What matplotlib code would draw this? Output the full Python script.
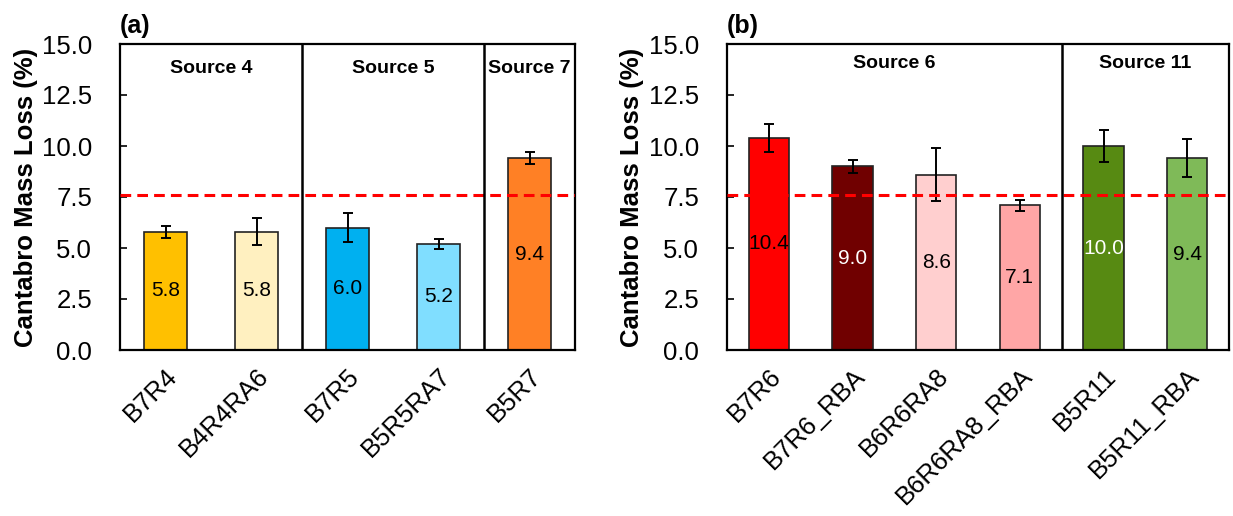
import matplotlib
matplotlib.use("Agg")
import matplotlib.pyplot as plt
import numpy as np

plt.rcParams['font.family'] = ['Liberation Sans', 'DejaVu Sans']

# Panel (a)
cats_a = ["B7R4", "B4R4RA6", "B7R5", "B5R5RA7", "B5R7"]
vals_a = [5.8, 5.8, 6.0, 5.2, 9.4]
errs_a = [0.3, 0.66, 0.72, 0.25, 0.3]
cols_a = ["#FFC000", "#FFF0C0", "#00B0F0", "#80DEFF", "#FF8025"]
lblc_a = ["black", "black", "black", "black", "black"]
groups_a = ["Source 4", "Source 5", "Source 7"]
group_centers_a = [0.5, 2.5, 4.0]
dividers_a = [1.5, 3.5]

# Panel (b)
cats_b = ["B7R6", "B7R6_RBA", "B6R6RA8", "B6R6RA8_RBA", "B5R11", "B5R11_RBA"]
vals_b = [10.4, 9.0, 8.6, 7.1, 10.0, 9.4]
errs_b = [0.7, 0.3, 1.3, 0.27, 0.8, 0.92]
cols_b = ["#FF0000", "#700000", "#FFCFCF", "#FFA6A6", "#578A12", "#7FBA58"]
lblc_b = ["black", "white", "black", "black", "white", "black"]
groups_b = ["Source 6", "Source 11"]
group_centers_b = [1.5, 4.5]
dividers_b = [3.5]

threshold = 7.6
yticks = [0.0, 2.5, 5.0, 7.5, 10.0, 12.5, 15.0]

W, H = 1233, 516
fig = plt.figure(figsize=(W / 100, H / 100), dpi=100)
top = 1 - 44 / H
bot = 1 - 350 / H
ax_a = fig.add_axes([120 / W, bot, (575 - 120) / W, top - bot])
ax_b = fig.add_axes([727 / W, bot, (1229 - 727) / W, top - bot])


def draw(ax, cats, vals, errs, cols, lblc, groups, gcent, divs, title, gy, labx):
    x = np.arange(len(cats))
    ax.bar(x, vals, width=0.48, color=cols, edgecolor="#222222", linewidth=1.2, zorder=2)
    ax.errorbar(x, vals, yerr=errs, fmt="none", ecolor="black", elinewidth=1.4,
                capsize=3.8, capthick=1.4, zorder=3)
    for xi, v, c in zip(x, vals, lblc):
        ax.text(xi, v / 2, f"{v:.1f}", ha="center", va="center", fontsize=15, color=c, zorder=4)
    ax.axhline(threshold, color="#FF0000", linestyle=(0, (3.5, 2)), linewidth=2.2, zorder=5)
    for d in divs:
        ax.axvline(d, color="black", linewidth=1.8, zorder=6)
    for g, gc in zip(groups, gcent):
        ax.text(gc, gy, g, ha="center", va="center", fontsize=14, fontweight="bold",
                transform=ax.get_xaxis_transform())
    ax.set_xlim(-0.5, len(cats) - 0.5)
    ax.set_ylim(0, 15)
    ax.set_yticks(yticks)
    ax.set_yticklabels([f"{t:.1f}" for t in yticks], fontsize=18.5)
    ax.tick_params(axis="y", direction="in", length=5, width=1.2, pad=20)
    ax.set_xticks(x)
    ax.set_xticklabels(cats, rotation=45, ha="right", rotation_mode="anchor", fontsize=18.5)
    ax.tick_params(axis="x", length=0, pad=10)
    for s in ax.spines.values():
        s.set_linewidth(1.6)
    ax.set_ylabel("Cantabro Mass Loss (%)", fontsize=18.5, fontweight="bold")
    ax.yaxis.set_label_coords(labx, 0.5)
    ax.text(0.0, 1.035, title, transform=ax.transAxes, ha="left", va="baseline",
            fontsize=18, fontweight="bold")


draw(ax_a, cats_a, vals_a, errs_a, cols_a, lblc_a, groups_a, group_centers_a, dividers_a, "(a)", 0.92, -0.18)
draw(ax_b, cats_b, vals_b, errs_b, cols_b, lblc_b, groups_b, group_centers_b, dividers_b, "(b)", 0.935, -0.165)

fig.savefig("out.png", dpi=100)
